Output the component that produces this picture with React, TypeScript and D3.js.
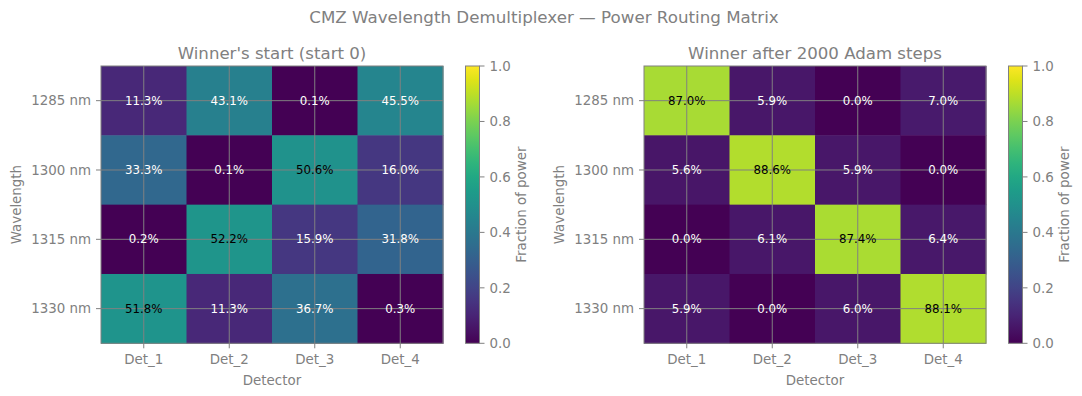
import React from "react";
import * as d3 from "d3";

const wavelengths = ["1285 nm", "1300 nm", "1315 nm", "1330 nm"];
const detectors = ["Det_1", "Det_2", "Det_3", "Det_4"];
const startMatrix = [
  [11.3, 43.1, 0.1, 45.5],
  [33.3, 0.1, 50.6, 16.0],
  [0.2, 52.2, 15.9, 31.8],
  [51.8, 11.3, 36.7, 0.3],
];
const finalMatrix = [
  [87.0, 5.9, 0.0, 7.0],
  [5.6, 88.6, 5.9, 0.0],
  [0.0, 6.1, 87.4, 6.4],
  [5.9, 0.0, 6.0, 88.1],
];
const colorbarTicks = [0.0, 0.2, 0.4, 0.6, 0.8, 1.0];
const suptitle = "CMZ Wavelength Demultiplexer \u2014 Power Routing Matrix";
const panelTitles = ["Winner's start (start 0)", "Winner after 2000 Adam steps"];

const GREY = "#808080";
const FONT = "DejaVu Sans";

function Panel({ x0, title, data, gid }: { x0: number; title: string; data: number[][]; gid: string }) {
  const W = 342;
  const top = 66;
  const H = 277.3;
  const xs = d3.scaleBand().domain(detectors).range([0, W]);
  const ys = d3.scaleBand().domain(wavelengths).range([0, H]);
  const color = (v: number) => d3.interpolateViridis(v);
  const cbX = x0 + 364.5;
  const cbW = 14;
  const cbScale = d3.scaleLinear().domain([0, 1]).range([H, 0]);
  const stops = d3.range(0, 1.0001, 0.05);
  return (
    <g>
      <defs>
        <linearGradient id={gid} x1="0" y1="1" x2="0" y2="0">
          {stops.map((s) => (
            <stop key={s} offset={s} stopColor={color(s)} />
          ))}
        </linearGradient>
      </defs>
      <g transform={`translate(${x0},${top})`}>
        {data.map((row, i) =>
          row.map((v, j) => (
            <rect
              key={`${i}-${j}`}
              x={xs(detectors[j])!}
              y={ys(wavelengths[i])!}
              width={xs.bandwidth() + 0.5}
              height={ys.bandwidth() + 0.5}
              fill={color(v / 100)}
            />
          ))
        )}
        {detectors.map((d) => (
          <line key={d} x1={xs(d)! + xs.bandwidth() / 2} x2={xs(d)! + xs.bandwidth() / 2} y1={0} y2={H + 5} stroke={GREY} strokeWidth={1} />
        ))}
        {wavelengths.map((w) => (
          <line key={w} x1={-5} x2={W} y1={ys(w)! + ys.bandwidth() / 2} y2={ys(w)! + ys.bandwidth() / 2} stroke={GREY} strokeWidth={1} />
        ))}
        {data.map((row, i) =>
          row.map((v, j) => (
            <text
              key={`t${i}-${j}`}
              x={xs(detectors[j])! + xs.bandwidth() / 2}
              y={ys(wavelengths[i])! + ys.bandwidth() / 2}
              dy="0.35em"
              textAnchor="middle"
              fontFamily={FONT}
              fontSize={11.8}
              fill={v > 50 ? "black" : "white"}
            >
              {v.toFixed(1)}%
            </text>
          ))
        )}
        <rect x={0} y={0} width={W} height={H} fill="none" stroke={GREY} strokeWidth={1} />
        {detectors.map((d) => (
          <text key={"xl" + d} x={xs(d)! + xs.bandwidth() / 2} y={H + 16} dy="0.35em" textAnchor="middle" fontFamily={FONT} fontSize={13.4} fill={GREY}>
            {d}
          </text>
        ))}
        {wavelengths.map((w) => (
          <text key={"yl" + w} x={-10} y={ys(w)! + ys.bandwidth() / 2} dy="0.35em" textAnchor="end" fontFamily={FONT} fontSize={13.4} fill={GREY}>
            {w}
          </text>
        ))}
        <text x={W / 2} y={H + 37} dy="0.35em" textAnchor="middle" fontFamily={FONT} fontSize={13.4} fill={GREY}>
          Detector
        </text>
        <text transform={`translate(${-85},${H / 2}) rotate(-90)`} dy="0.35em" textAnchor="middle" fontFamily={FONT} fontSize={13.4} fill={GREY}>
          Wavelength
        </text>
        <text x={W / 2} y={-7} textAnchor="middle" fontFamily={FONT} fontSize={16.6} fill={GREY}>
          {title}
        </text>
      </g>
      <g transform={`translate(${cbX},${top})`}>
        <rect x={0} y={0} width={cbW} height={H} fill={`url(#${gid})`} stroke={GREY} strokeWidth={1} />
        {colorbarTicks.map((t) => (
          <g key={t}>
            <line x1={cbW} x2={cbW + 5} y1={cbScale(t)} y2={cbScale(t)} stroke={GREY} strokeWidth={1} />
            <text x={cbW + 10} y={cbScale(t)} dy="0.35em" fontFamily={FONT} fontSize={13.4} fill={GREY}>
              {t.toFixed(1)}
            </text>
          </g>
        ))}
        <text transform={`translate(${cbW + 42},${H / 2}) rotate(-90)`} dy="0.35em" textAnchor="middle" fontFamily={FONT} fontSize={13.4} fill={GREY}>
          Fraction of power
        </text>
      </g>
    </g>
  );
}

export default function App() {
  return (
    <svg width={1082} height={396} style={{ position: "absolute", left: 0, top: 0, background: "white" }}>
      <text x={544} y={23} textAnchor="middle" fontFamily={FONT} fontSize={16.7} fill={GREY}>
        {suptitle}
      </text>
      <Panel x0={101} title={panelTitles[0]} data={startMatrix} gid="cb1" />
      <Panel x0={644} title={panelTitles[1]} data={finalMatrix} gid="cb2" />
    </svg>
  );
}
